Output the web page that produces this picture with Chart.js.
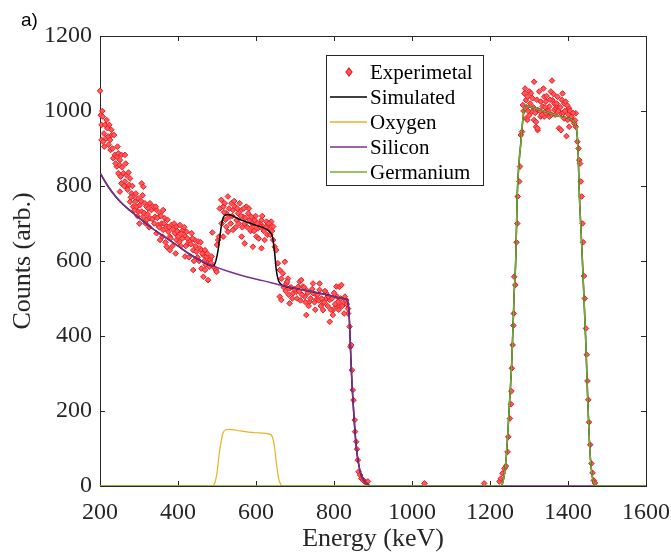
<!DOCTYPE html>
<html>
<head>
<meta charset="utf-8">
<script src="https://cdn.jsdelivr.net/npm/chart.js@4.4.1/dist/chart.umd.min.js"></script>
<style>
  body { margin: 0; background: #fff; }
  #wrap { position: relative; width: 671px; height: 555px; }
</style>
</head>
<body>
<div id="wrap"><canvas id="spectrumChart" width="671" height="555"></canvas></div>
<script>
/* Data */
const xTicks = [200, 400, 600, 800, 1000, 1200, 1400, 1600];
const yTicks = [0, 200, 400, 600, 800, 1000, 1200];

// Experimental points (energy keV, counts)
const expEnergy = [
  200, 202, 204, 204, 207, 208, 210, 213, 215, 217, 219, 221, 224, 226, 227, 230, 232, 234, 236, 238,
  243, 243, 247, 247, 250, 251, 251, 253, 255, 255, 260, 264, 264, 268, 268, 273, 275, 277, 277, 281,
  285, 285, 290, 294, 298, 298, 301, 302, 307, 307, 311, 311, 315, 319, 319, 324, 328, 328, 332, 337,
  341, 345, 345, 349, 354, 354, 358, 362, 362, 366, 371, 371, 375, 379, 379, 383, 388, 392, 396, 396,
  400, 405, 409, 413, 418, 418, 422, 426, 430, 435, 439, 439, 443, 447, 452, 456, 460, 460, 465, 465,
  469, 469, 473, 477, 477, 482, 486, 488, 490, 497, 499, 500, 503, 505, 507, 511, 516, 516, 520, 524,
  524, 528, 528, 533, 537, 541, 541, 546, 550, 554, 558, 563, 563, 567, 571, 571, 575, 580, 584, 588,
  592, 592, 597, 601, 605, 610, 614, 614, 618, 622, 627, 631, 635, 639, 644, 644, 648, 652, 656, 661,
  661, 665, 665, 669, 674, 678, 682, 686, 686, 695, 703, 708, 712, 716, 720, 725, 729, 729, 737, 746,
  746, 754, 755, 763, 763, 772, 772, 780, 780, 789, 789, 797, 797, 806, 806, 810, 814, 814, 819, 823,
  831, 836, 836, 840, 842, 844, 846, 848, 850, 853, 854, 857, 859, 861, 863, 867, 870, 874, 878, 882,
  887, 1032, 1185, 1224, 1228, 1232, 1237, 1241, 1245, 1247, 1251, 1254, 1255, 1256, 1258, 1260, 1261, 1262, 1265, 1268,
  1270, 1271, 1275, 1277, 1279, 1282, 1284, 1288, 1292, 1292, 1296, 1296, 1301, 1301, 1305, 1307, 1309, 1313, 1313, 1318,
  1318, 1322, 1322, 1322, 1326, 1330, 1330, 1335, 1339, 1339, 1343, 1343, 1347, 1352, 1352, 1356, 1359, 1360, 1365, 1365,
  1369, 1373, 1373, 1377, 1382, 1382, 1386, 1390, 1390, 1394, 1396, 1399, 1399, 1403, 1403, 1407, 1411, 1416, 1420, 1420,
  1424, 1427, 1429, 1431, 1433, 1435, 1437, 1439, 1441, 1443, 1446, 1448, 1450, 1452, 1454, 1457, 1460, 1463, 1466, 1469,
  206, 211, 222, 229, 240, 245, 257, 262, 266, 271, 279, 283, 288, 292, 296, 305, 309, 313, 317, 322,
  326, 334, 339, 343, 347, 352, 356, 360, 364, 368, 373, 377, 381, 386, 390, 394, 398, 403, 407, 411,
  416, 420, 424, 428, 433, 437, 441, 445, 450, 454, 458, 462, 467, 471, 475, 480, 484, 512, 518, 522,
  531, 535, 539, 544, 548, 552, 556, 561, 565, 569, 573, 578, 582, 586, 590, 595, 599, 603, 607, 612,
  616, 620, 625, 629, 633, 637, 641, 671, 676, 680, 684, 690, 693, 699, 705, 710, 714, 718, 723, 727,
  733, 735, 740, 744, 750, 752, 758, 761, 766, 768, 775, 777, 784, 786, 792, 795, 800, 803, 808, 812,
  817, 821, 826, 828, 833, 1286, 1290, 1294, 1298, 1303, 1311, 1316, 1320, 1328, 1333, 1337, 1341, 1345, 1350,
  1354, 1358, 1363, 1367, 1371, 1375, 1380, 1384, 1388, 1392, 1398, 1401, 1405, 1409, 1413, 1418
];
const expCounts = [
  1054, 989, 963, 923, 985, 918, 940, 963, 927, 976, 954, 932, 963, 923, 896, 936, 900, 874, 936, 883,
  878, 852, 887, 834, 856, 869, 785, 825, 883, 807, 834, 883, 812, 829, 798, 836, 803, 820, 758, 780,
  772, 745, 758, 745, 767, 732, 700, 749, 807, 732, 798, 718, 754, 745, 709, 740, 754, 714, 736, 745,
  718, 736, 674, 696, 727, 656, 700, 736, 683, 714, 692, 638, 678, 665, 629, 696, 683, 674, 692, 656,
  665, 696, 674, 683, 665, 612, 678, 647, 652, 674, 629, 576, 656, 625, 652, 634, 629, 580, 616, 558,
  629, 576, 612, 594, 549, 603, 612, 676, 585, 576, 571, 643, 656, 665, 740, 763, 745, 665, 754, 727,
  691, 772, 678, 718, 754, 736, 683, 745, 709, 727, 754, 736, 665, 718, 700, 647, 745, 727, 709, 718,
  692, 638, 709, 665, 687, 700, 709, 634, 692, 656, 705, 696, 683, 705, 692, 656, 638, 629, 594, 576,
  505, 553, 496, 567, 598, 540, 553, 527, 487, 514, 518, 531, 545, 549, 532, 505, 456, 523, 491, 540,
  514, 496, 509, 540, 523, 469, 487, 500, 514, 438, 496, 456, 469, 478, 532, 491, 531, 478, 536, 487,
  496, 460, 473, 425, 371, 376, 309, 256, 229, 176, 145, 118, 98, 69, 38, 29, 20, 16, 12, 10,
  12, 7, 7, 12, 20, 34, 47, 53, 91, 131, 180, 218, 253, 314, 376, 428, 460, 558, 536, 650,
  700, 772, 812, 852, 936, 945, 1016, 1047, 1029, 980, 1038, 976, 1052, 989, 1047, 998, 1034, 1078, 976, 971,
  958, 949, 1003, 954, 1052, 1025, 985, 1012, 1038, 985, 1025, 994, 1003, 985, 1012, 1052, 1081, 1029, 1020, 1003,
  1007, 1038, 1012, 954, 994, 949, 1047, 1020, 980, 1025, 933, 1003, 976, 1007, 958, 994, 976, 967, 994, 958,
  918, 900, 869, 860, 812, 772, 700, 650, 560, 500, 420, 350, 280, 230, 170, 110, 60, 35, 15, 8,
  1000, 905, 910, 950, 860, 905, 850, 800, 860, 790, 770, 800, 735, 780, 720, 760, 775, 728, 700, 725,
  690, 712, 700, 745, 715, 690, 720, 665, 700, 650, 710, 690, 660, 640, 700, 620, 680, 650, 640, 660,
  690, 640, 660, 610, 645, 660, 600, 640, 610, 600, 650, 620, 600, 590, 620, 585, 595, 700, 730, 710,
  740, 700, 720, 760, 690, 740, 700, 720, 690, 740, 715, 690, 740, 680, 700, 680, 720, 700, 660, 690,
  720, 680, 690, 670, 700, 670, 680, 530, 520, 545, 510, 530, 500, 525, 500, 520, 495, 510, 530, 490,
  515, 480, 500, 525, 490, 470, 510, 495, 480, 500, 490, 520, 480, 505, 470, 500, 515, 485, 505, 470,
  500, 480, 460, 505, 485, 1000, 1060, 1010, 1000, 1020, 1010, 995, 1030, 1000, 990, 1060, 1010, 1040, 1000,
  1030, 990, 1045, 990, 1020, 1000, 1010, 1030, 995, 1000, 1015, 990, 1000, 985, 995, 975
];

// Simulated (total) curve
const simEnergy = [200, 220, 240, 260, 280, 300, 330, 360, 400, 430, 460, 490, 497, 503, 508, 513, 520, 528, 560, 600,
  635, 642, 647, 652, 657, 662, 670, 700, 746, 790, 823, 833, 838, 840, 844, 850, 857, 866, 875, 882,
  895, 1228, 1235, 1241, 1245, 1249, 1256, 1262, 1266, 1270, 1275, 1279, 1284, 1288, 1292, 1300, 1343, 1380, 1416, 1421,
  1424, 1426, 1429, 1433, 1437, 1441, 1445, 1448, 1451, 1454, 1457, 1461, 1465, 1470, 1476, 1600];
const simCounts = [835, 800, 772, 750, 732, 715, 690, 668, 640, 618, 600, 587, 600, 630, 670, 705, 722, 724, 710, 695,
  678, 665, 630, 576, 550, 540, 534, 527, 518, 508, 500, 497, 470, 430, 320, 205, 105, 43, 18, 9,
  0, 0, 20, 69, 130, 203, 336, 514, 603, 780, 870, 914, 975, 1007, 1014, 1012, 998, 985, 971, 958,
  930, 887, 780, 690, 600, 500, 400, 310, 220, 140, 80, 35, 12, 3, 0, 0];

// Oxygen component
const oxyEnergy = [200, 488, 495, 500, 505, 510, 515, 522, 530, 560, 600, 638, 643, 648, 653, 658, 663, 668, 1600];
const oxyCounts = [0, 0, 10, 35, 80, 115, 140, 150, 151, 147, 142, 137, 128, 100, 55, 20, 5, 0, 0];

// Silicon component
const siEnergy = [200, 220, 240, 260, 280, 300, 330, 360, 400, 430, 460, 494, 530, 575, 620, 661, 700, 746, 790, 823,
  833, 838, 840, 844, 850, 857, 866, 875, 882, 895, 1600];
const siCounts = [835, 800, 772, 750, 732, 715, 690, 668, 640, 618, 600, 585, 572, 558, 547, 536, 527, 518, 508, 500,
  497, 470, 430, 320, 205, 105, 43, 18, 9, 0, 0];

// Germanium component
const geEnergy = [200, 1228, 1235, 1241, 1245, 1249, 1256, 1262, 1266, 1270, 1275, 1279, 1284, 1288, 1292, 1300, 1343, 1380, 1416, 1421,
  1424, 1426, 1429, 1433, 1437, 1441, 1445, 1448, 1451, 1454, 1457, 1461, 1465, 1470, 1476, 1600];
const geCounts = [0, 0, 20, 69, 130, 203, 336, 514, 603, 780, 870, 914, 975, 1007, 1014, 1012, 998, 985, 971, 958,
  930, 887, 780, 690, 600, 500, 400, 310, 220, 140, 80, 35, 12, 3, 0, 0];

const legendNames = ['Experimetal', 'Simulated', 'Oxygen', 'Silicon', 'Germanium'];

/* Styles */
const axisColor = '#262626';
const serif = '"Liberation Serif", "Times New Roman", serif';
const colExp = '#ec1b24';
const colExpFill = '#ff5a5a';
const colSim = '#000000';
const colOxy = '#EDB120';
const colSi = '#7E2F8E';
const colGe = '#77AC30';

function toPoints(xs, ys) {
  return xs.map((x, i) => ({ x: x, y: ys[i] }));
}

// Box, inner ticks (drawn under the data like in the original)
const boxPlugin = {
  id: 'boxPlugin',
  beforeDatasetsDraw(chart) {
    const { ctx, chartArea: a, scales } = chart;
    ctx.save();
    ctx.strokeStyle = axisColor;
    ctx.lineWidth = 1;
    ctx.strokeRect(Math.round(a.left) + 0.5, Math.round(a.top) + 0.5,
      Math.round(a.right - a.left), Math.round(a.bottom - a.top));
    ctx.beginPath();
    xTicks.forEach(v => {
      const px = Math.round(scales.x.getPixelForValue(v)) + 0.5;
      ctx.moveTo(px, a.bottom); ctx.lineTo(px, a.bottom - 5);
      ctx.moveTo(px, a.top); ctx.lineTo(px, a.top + 5);
    });
    yTicks.forEach(v => {
      const py = Math.round(scales.y.getPixelForValue(v)) + 0.5;
      ctx.moveTo(a.left, py); ctx.lineTo(a.left + 5, py);
      ctx.moveTo(a.right, py); ctx.lineTo(a.right - 5, py);
    });
    ctx.stroke();
    ctx.restore();
  },
  afterDraw(chart) {
    const { ctx } = chart;
    ctx.save();
    // panel letter
    ctx.fillStyle = '#000';
    ctx.font = '19px "Liberation Sans", Arial, sans-serif';
    ctx.textBaseline = 'alphabetic';
    ctx.fillText('a)', 21, 26);

    // legend box
    const bx = 326.5, by = 55.5, bw = 157, bh = 130;
    ctx.fillStyle = '#fff';
    ctx.fillRect(bx, by, bw, bh);
    ctx.strokeStyle = axisColor;
    ctx.lineWidth = 1;
    ctx.strokeRect(bx, by, bw, bh);

    const rowY = [72, 97, 122, 147, 172];
    const lineCols = [null, colSim, colOxy, colSi, colGe];
    ctx.font = '21px ' + serif;
    ctx.textBaseline = 'middle';
    legendNames.forEach((name, i) => {
      const y = rowY[i];
      if (i === 0) {
        ctx.beginPath();
        ctx.moveTo(349, y - 4); ctx.lineTo(352, y); ctx.lineTo(349, y + 4); ctx.lineTo(346, y);
        ctx.closePath();
        ctx.fillStyle = colExpFill; ctx.fill();
        ctx.strokeStyle = colExp; ctx.lineWidth = 1.2; ctx.stroke();
      } else {
        ctx.beginPath();
        ctx.moveTo(330, y); ctx.lineTo(367, y);
        ctx.strokeStyle = lineCols[i]; ctx.lineWidth = 1.3; ctx.stroke();
      }
      ctx.fillStyle = '#000';
      ctx.fillText(name, 370, y + 1);
    });
    ctx.restore();
  }
};

const ctxSpectrum = document.getElementById('spectrumChart').getContext('2d');

const spectrumChart = new Chart(ctxSpectrum, {
  type: 'line',
  data: {
    datasets: [
      {
        label: 'Germanium',
        data: toPoints(geEnergy, geCounts),
        borderColor: colGe,
        borderWidth: 1.5,
        pointRadius: 0,
        cubicInterpolationMode: 'monotone',
        fill: false,
        order: 1
      },
      {
        label: 'Silicon',
        data: toPoints(siEnergy, siCounts),
        borderColor: colSi,
        borderWidth: 1.5,
        pointRadius: 0,
        cubicInterpolationMode: 'monotone',
        fill: false,
        order: 2
      },
      {
        label: 'Oxygen',
        data: toPoints(oxyEnergy, oxyCounts),
        borderColor: colOxy,
        borderWidth: 1.2,
        pointRadius: 0,
        cubicInterpolationMode: 'monotone',
        fill: false,
        order: 3
      },
      {
        label: 'Simulated',
        data: toPoints(simEnergy, simCounts),
        borderColor: colSim,
        borderWidth: 1.5,
        pointRadius: 0,
        cubicInterpolationMode: 'monotone',
        fill: false,
        order: 4
      },
      {
        label: 'Experimetal',
        data: toPoints(expEnergy, expCounts),
        showLine: false,
        pointStyle: 'rectRot',
        pointRadius: 2.8,
        pointBorderWidth: 1,
        pointBorderColor: colExp,
        pointBackgroundColor: colExpFill,
        clip: false,
        order: 5
      }
    ]
  },
  options: {
    responsive: false,
    animation: false,
    events: [],
    layout: {
      padding: { left: 0, right: 25, top: 36, bottom: 0 }
    },
    plugins: {
      legend: { display: false },
      tooltip: { enabled: false }
    },
    scales: {
      x: {
        type: 'linear',
        position: 'bottom',
        min: 200,
        max: 1600,
        afterFit: s => { s.height = 69; s.paddingLeft = 0; s.paddingRight = 0; },
        afterBuildTicks: s => { s.ticks = xTicks.map(v => ({ value: v })); },
        ticks: {
          padding: 12,
          color: axisColor,
          font: { family: serif, size: 24 },
          maxRotation: 0,
          callback: v => String(v)
        },
        grid: { display: false, drawTicks: false },
        border: { display: false },
        title: {
          display: true,
          text: 'Energy (keV)',
          color: axisColor,
          font: { family: serif, size: 26 },
          padding: { top: 0, bottom: 0 }
        }
      },
      y: {
        type: 'linear',
        position: 'left',
        min: 0,
        max: 1200,
        afterFit: s => { s.width = 100; s.paddingTop = 0; s.paddingBottom = 0; },
        afterBuildTicks: s => { s.ticks = yTicks.map(v => ({ value: v })); },
        ticks: {
          padding: 8,
          color: axisColor,
          font: { family: serif, size: 24 },
          callback: v => String(v)
        },
        grid: { display: false, drawTicks: false },
        border: { display: false },
        title: {
          display: true,
          text: 'Counts (arb.)',
          color: axisColor,
          font: { family: serif, size: 26 },
          padding: { top: 8, bottom: 0 }
        }
      }
    }
  },
  plugins: [boxPlugin]
});
</script>
</body>
</html>
